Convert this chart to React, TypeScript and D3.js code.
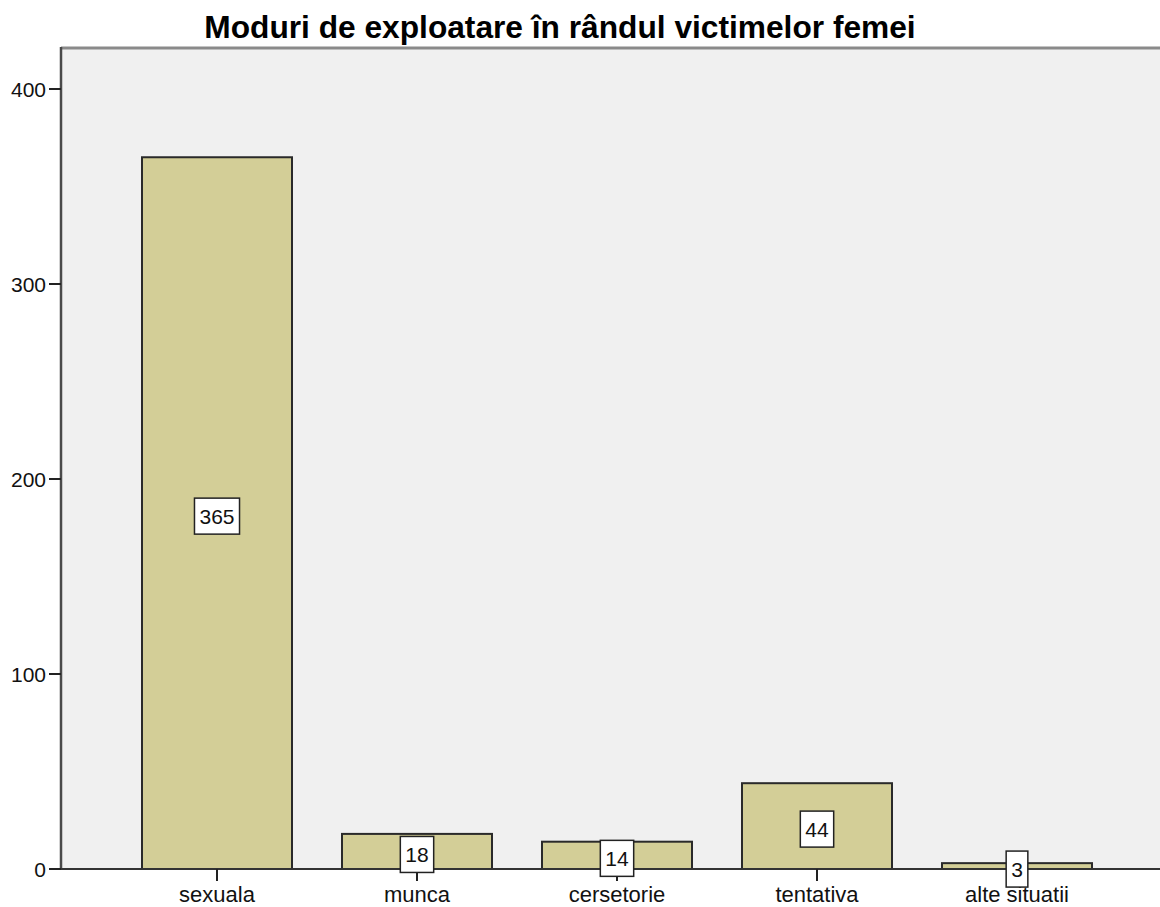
import React, { useEffect, useRef } from "react";
import * as d3 from "d3";

// date
const categories = ["sexuala", "munca", "cersetorie", "tentativa", "alte situatii"];
const counts = [365, 18, 14, 44, 3];
const yTicks = [0, 100, 200, 300, 400];
const title = "Moduri de exploatare în rândul victimelor femei";

const W = 1160;
const H = 907;
const FONT = "'Liberation Sans', Arial, sans-serif";

export default function App() {
  const svgRef = useRef<SVGSVGElement | null>(null);

  useEffect(() => {
    const svg = d3.select(svgRef.current);
    svg.selectAll("*").remove();

    const left = 61;
    const right = 1172; // il grafico originale continua oltre il bordo
    const top = 48;
    const bottom = 869;

    const y = d3.scaleLinear().domain([0, 400]).range([bottom, 89]);
    const x = d3
      .scaleBand<string>()
      .domain(categories)
      .range([117, 1117])
      .paddingInner(0.25)
      .paddingOuter(0.125);

    // fundal zona grafic
    svg.append("rect")
      .attr("x", left)
      .attr("y", top)
      .attr("width", right - left)
      .attr("height", bottom - top)
      .attr("fill", "#f0f0f0");

    // bordura de sus
    svg.append("line")
      .attr("x1", left).attr("x2", W)
      .attr("y1", top).attr("y2", top)
      .attr("stroke", "#8a8a8a")
      .attr("stroke-width", 3);

    const data = categories.map((c, i) => ({ label: c, value: counts[i] }));

    // bare
    svg.append("g")
      .selectAll("rect")
      .data(data)
      .join("rect")
      .attr("x", d => x(d.label)!)
      .attr("y", d => y(d.value))
      .attr("width", x.bandwidth())
      .attr("height", d => bottom - y(d.value))
      .attr("fill", "#d3ce97")
      .attr("stroke", "#2a2a2a")
      .attr("stroke-width", 2);

    // axa Y
    svg.append("line")
      .attr("x1", left).attr("x2", left)
      .attr("y1", top - 1).attr("y2", bottom)
      .attr("stroke", "#4a4a4a")
      .attr("stroke-width", 2.5);

    const yt = svg.append("g");
    yt.selectAll("line")
      .data(yTicks)
      .join("line")
      .attr("x1", 49).attr("x2", left)
      .attr("y1", d => y(d)).attr("y2", d => y(d))
      .attr("stroke", "#222")
      .attr("stroke-width", 2);
    yt.selectAll("text")
      .data(yTicks)
      .join("text")
      .attr("x", 46)
      .attr("y", d => y(d))
      .attr("dy", "0.36em")
      .attr("text-anchor", "end")
      .style("font-family", FONT)
      .style("font-size", "21px")
      .style("fill", "#111")
      .text(d => d);

    // axa X
    svg.append("line")
      .attr("x1", left).attr("x2", W)
      .attr("y1", bottom).attr("y2", bottom)
      .attr("stroke", "#333")
      .attr("stroke-width", 2);

    const xt = svg.append("g");
    xt.selectAll("line")
      .data(categories)
      .join("line")
      .attr("x1", d => x(d)! + x.bandwidth() / 2)
      .attr("x2", d => x(d)! + x.bandwidth() / 2)
      .attr("y1", bottom).attr("y2", bottom + 12)
      .attr("stroke", "#222")
      .attr("stroke-width", 2);
    xt.selectAll("text")
      .data(categories)
      .join("text")
      .attr("x", d => x(d)! + x.bandwidth() / 2)
      .attr("y", 902)
      .attr("text-anchor", "middle")
      .style("font-family", FONT)
      .style("font-size", "22px")
      .style("fill", "#111")
      .text(d => d);

    // etichete valori
    const lab = svg.append("g")
      .selectAll("g")
      .data(data)
      .join("g")
      .attr("transform", d => `translate(${x(d.label)! + x.bandwidth() / 2},${(y(d.value) + bottom) / 2 + 3})`);

    lab.append("text")
      .attr("text-anchor", "middle")
      .attr("dy", "0.36em")
      .style("font-family", FONT)
      .style("font-size", "21px")
      .style("fill", "#111")
      .text(d => d.value);

    lab.each(function () {
      const g = d3.select(this);
      const t = g.select<SVGTextElement>("text").node()!;
      const bw = t.getComputedTextLength() + 10;
      g.insert("rect", "text")
        .attr("x", -bw / 2)
        .attr("y", -18)
        .attr("width", bw)
        .attr("height", 36)
        .attr("fill", "#fff")
        .attr("stroke", "#222")
        .attr("stroke-width", 1.5);
    });

    // titlu
    svg.append("text")
      .attr("x", 560)
      .attr("y", 38)
      .attr("text-anchor", "middle")
      .style("font-family", FONT)
      .style("font-size", "31.7px")
      .style("font-weight", "bold")
      .style("fill", "#000")
      .text(title);
  }, []);

  return (
    <svg
      ref={svgRef}
      width={W}
      height={H}
      style={{ display: "block", position: "absolute", left: 0, top: 0, background: "#fff" }}
    />
  );
}
